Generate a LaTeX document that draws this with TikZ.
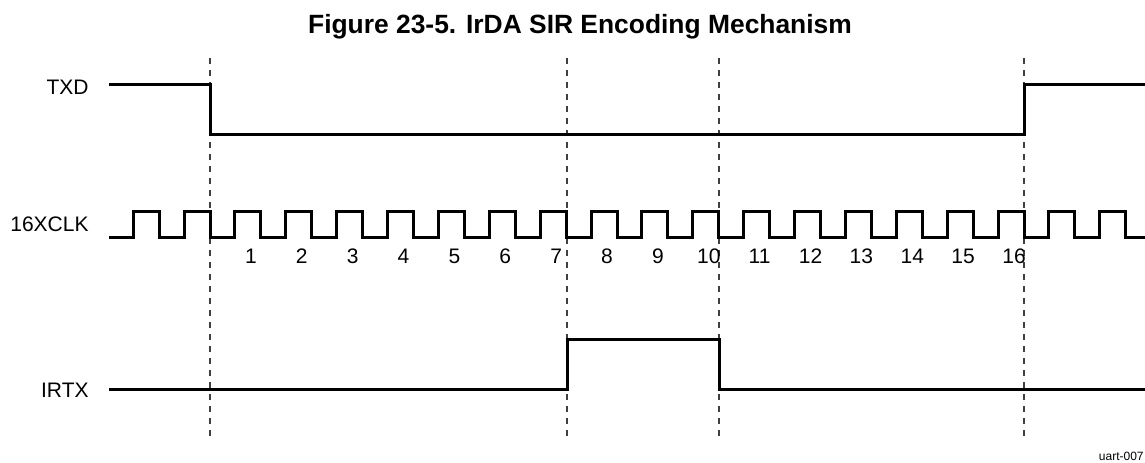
\documentclass[tikz,border=0pt]{standalone}
\usepackage{fontspec}
\setmainfont{Liberation Sans}
\usetikzlibrary{positioning}
\tikzset{wave/.style = {line width = 1.5pt, line cap = butt, line join = miter},
         guide/.style = {draw = black!75, line width = .55pt, dash pattern = on 3pt off 3pt},
         signame/.style = {anchor = base east, inner sep = 0pt, font = \fontsize{10.5}{12}\selectfont},
         tick/.style = {anchor = base, inner sep = 0pt, font = \fontsize{10.5}{12}\selectfont},
}
\newcommand{\clkper}{50.875}

\begin{document}
\begin{tikzpicture}[x = .5pt, y = -.5pt]
  \useasboundingbox (0,0) rectangle (1145,462);

  \node[anchor = base, font = \bfseries\fontsize{13.2}{15}\selectfont] (title) at (580, 33) {Figure 23-5. IrDA SIR Encoding Mechanism};

  % signal names
  \node[signame] (txd) at (89, 94) {TXD};
  \node[signame] (clk) at (89, 231) {16XCLK};
  \node[signame] (irtx) at (89, 397) {IRTX};

  % bit boundaries
  \foreach \x in {210, 567, 719, 1024}
    \draw[guide] (\x, 58) -- (\x, 440);

  % TXD
  \draw[wave] (109, 84) -| (210, 134) -| (1024, 84) -- (1145, 84);

  % 16XCLK
  \draw[wave] (109, 237)
    \foreach \k in {-1,...,18} { -| ({210 + \k*\clkper - 26}, 211) -| ({210 + \k*\clkper}, 237) }
    -- (1145, 237);
  \foreach \k in {1,...,16}
    \node[tick] (n\k) at ({200 + \k*\clkper}, 263) {\k};

  % IRTX
  \draw[wave] (109, 389) -| (567, 339) -| (719, 389) -- (1145, 389);

  \node[anchor = base east, inner sep = 0pt, font = \fontsize{6}{7}\selectfont] (figid) at (1144, 460) {uart-007};

\end{tikzpicture}
\end{document}
